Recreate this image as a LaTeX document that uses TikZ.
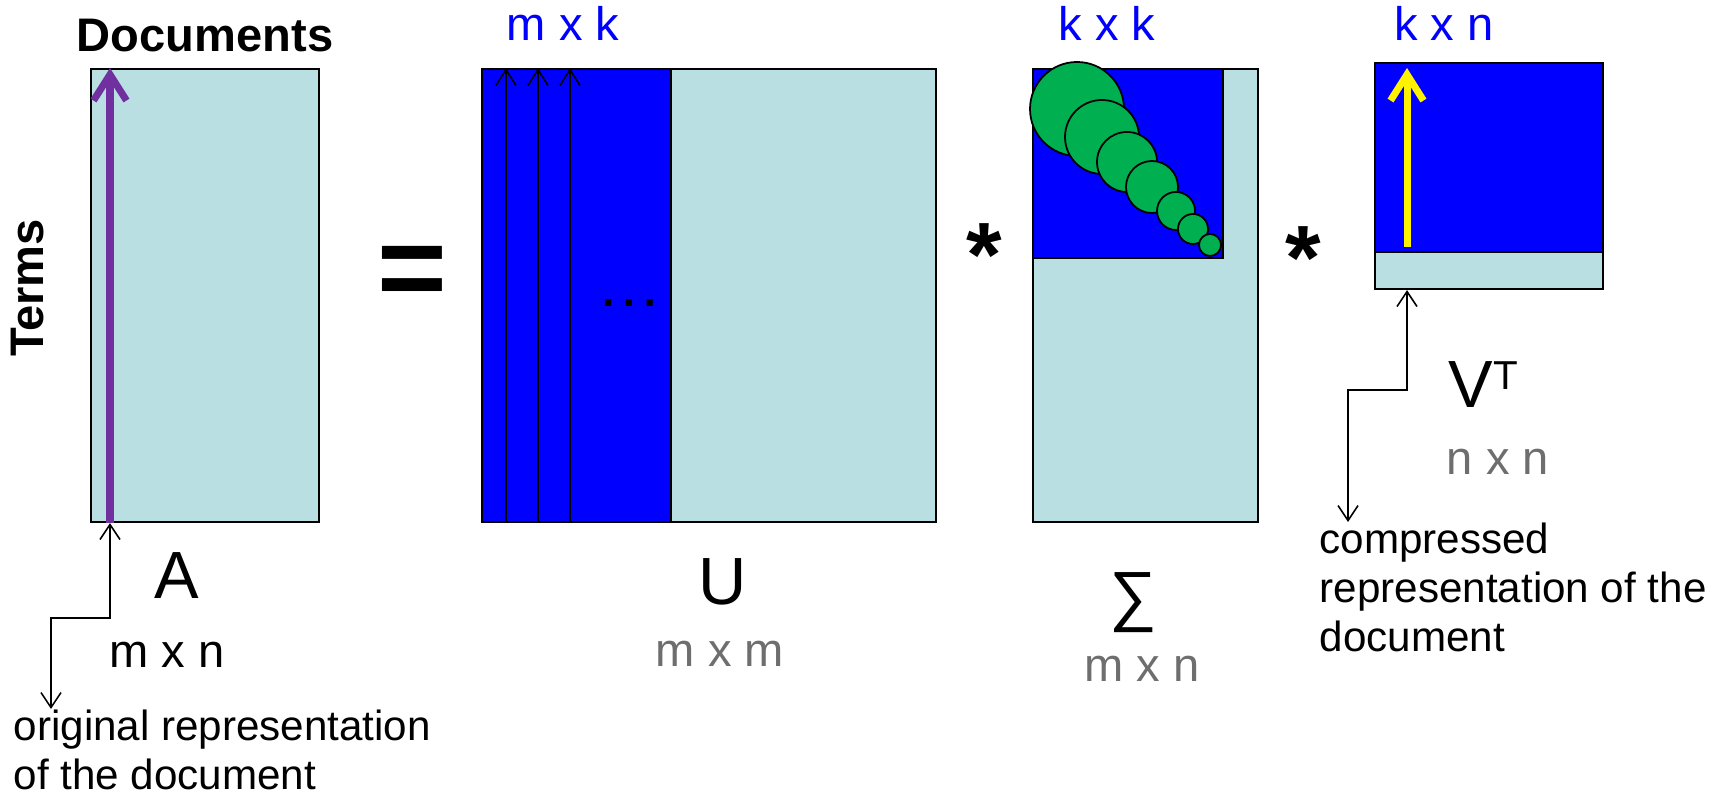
\documentclass[tikz,border=0pt]{standalone}
\usepackage{fontspec}
\setmainfont{Liberation Sans}
\usetikzlibrary{arrows.meta}
\definecolor{cellcyan}{RGB}{185,223,226}
\definecolor{cellblue}{RGB}{0,0,255}
\definecolor{svgreen}{RGB}{0,176,80}
\definecolor{docpurple}{RGB}{112,48,160}
\definecolor{dimgray}{RGB}{110,110,110}

\begin{document}
\begin{tikzpicture}[x=0.1mm,y=-0.1mm,
    mat/.style={draw, line width=0.6pt, fill=cellcyan, inner sep=0, anchor=north west},
    blk/.style={mat, fill=cellblue},
    dimtext/.style={font=\fontsize{13.4}{16}\selectfont, anchor=base, inner sep=0},
    bigtext/.style={font=\fontsize{19}{22}\selectfont, anchor=base, inner sep=0},
    note/.style={font=\fontsize{12}{14}\selectfont, align=left, anchor=north west, inner sep=0},
    notearrow/.style={{Straight Barb[length=1.5mm,width=2mm]}-{Straight Barb[length=1.5mm,width=2mm]}, line width=0.45pt},
    colarrow/.style={-{Straight Barb[length=1.6mm,width=2mm]}, line width=0.45pt},
    vecarrow/.style={-{Straight Barb[length=2.6mm,width=3.3mm]}, line width=2pt}]
    \useasboundingbox (0,0) rectangle (1725,797);
    % Matrices
    \node[mat, minimum width=22.8mm, minimum height=45.3mm] (A) at (90,68) {};
    \node[mat, minimum width=45.4mm, minimum height=45.3mm] (U) at (481,68) {};
    \node[blk, minimum width=18.9mm, minimum height=45.3mm] (Ublue) at (481,68) {};
    \node[mat, minimum width=22.5mm, minimum height=45.3mm] (S) at (1032,68) {};
    \node[blk, minimum width=19.0mm, minimum height=18.9mm] (Sblue) at (1032,68) {};
    \node[mat, minimum width=22.8mm, minimum height=22.6mm] (V) at (1374,62) {};
    \node[blk, minimum width=22.8mm, minimum height=18.9mm] (Vblue) at (1374,62) {};
    % Singular values: {x/y/radius}
    \foreach \cx/\cy/\r in {1077/109/47, 1102/137/37, 1127/162/30, 1152/187/26, 1176/211/19, 1193/229/15, 1210/245/11}
      \draw[fill=svgreen, line width=0.5pt] (\cx,\cy) circle[radius=\r];
    % Column vectors
    \draw[vecarrow, docpurple] (110,0 |- A.south) -- (110,0 |- A.north);
    \foreach \x in {506,538,570}
      \draw[colarrow] (\x,0 |- U.south) -- (\x,0 |- U.north);
    \draw[vecarrow, yellow, shorten <=0.6mm, shorten >=0.6mm] (1407,0 |- Vblue.south) -- (1407,0 |- V.north);
    % Headers
    \node[font=\fontsize{13.4}{16}\selectfont\bfseries, anchor=base, inner sep=0] (docs) at (205,52) {Documents};
    \node[font=\fontsize{13.4}{16}\selectfont\bfseries, rotate=90, inner sep=0] (terms) at (28,288) {Terms};
    \node[dimtext, cellblue] (dimUk) at (563,41) {m x k};
    \node[dimtext, cellblue] (dimSk) at (1107,41) {k x k};
    \node[dimtext, cellblue] (dimVk) at (1444,41) {k x n};
    % Operators
    \node[font=\fontsize{34}{40}\selectfont\bfseries, anchor=north, inner sep=0] (eq) at (412,246) {=};
    \node[font=\fontsize{26}{30}\selectfont\bfseries, anchor=north, inner sep=0] (mul1) at (984,223) {*};
    \node[font=\fontsize{26}{30}\selectfont\bfseries, anchor=north, inner sep=0] (mul2) at (1303,226) {*};
    \node[font=\fontsize{18.7}{22}\selectfont, anchor=base, inner sep=0] (dots) at (629,307) {…};
    % Names and sizes
    \node[bigtext] (nameA) at (177,599) {A};
    \node[dimtext] (sizeA) at (167,668) {m x n};
    \node[bigtext] (nameU) at (723,605) {U};
    \node[dimtext, dimgray] (sizeU) at (720,667) {m x m};
    \node[bigtext, anchor=north] (nameS) at (1133,572) {∑};
    \node[dimtext, dimgray] (sizeS) at (1142,682) {m x n};
    \node[bigtext, anchor=base west] (nameV) at (1448,408) {V\raisebox{5.4pt}{\fontsize{11.5}{12}\selectfont T}};
    \node[dimtext, dimgray] (sizeV) at (1498,475) {n x n};
    % Notes
    \node[note] (orignote) at (13,709) {original representation\\of the document};
    \node[note] (compnote) at (1319,522) {compressed\\representation of the\\document};
    \draw[notearrow] (110,0 |- A.south) -- (110,618) -| (51,0 |- orignote.north);
    \draw[notearrow] (1407,0 |- V.south) -- (1407,390) -| (1348,0 |- compnote.north);
\end{tikzpicture}
\end{document}
